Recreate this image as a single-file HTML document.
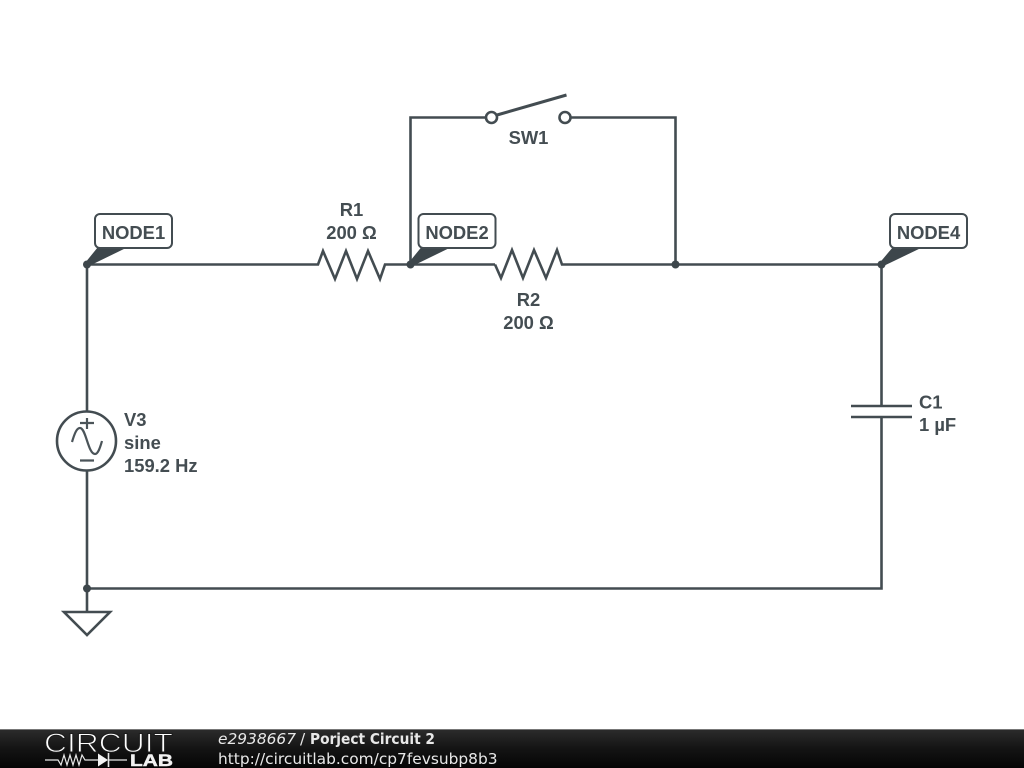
<!DOCTYPE html>
<html>
<head>
<meta charset="utf-8">
<style>
html,body{margin:0;padding:0;background:#fff;}
svg{display:block;}
.l{font-family:"Liberation Sans",sans-serif;font-size:18.4px;font-weight:bold;fill:#444d52;}
.m{text-anchor:middle;}
.f{font-family:"DejaVu Sans",sans-serif;font-size:15.4px;fill:#e8e8e8;}
</style>
</head>
<body>
<svg width="1024" height="768" viewBox="0 0 1024 768" xmlns="http://www.w3.org/2000/svg">
<defs>
<linearGradient id="bar" x1="0" y1="0" x2="0" y2="1">
<stop offset="0" stop-color="#2c2c2c"/>
<stop offset="0.5" stop-color="#141414"/>
<stop offset="1" stop-color="#050505"/>
</linearGradient>
</defs>
<rect width="1024" height="768" fill="#fff"/>
<g fill="none" stroke="#434c51" stroke-width="2.6" stroke-linejoin="miter">
<path d="M87 264.500H318L323 251L335 279L346 251L357 279L368 251L380 279L385 264.500H495"/>
<path d="M495 264.500L501 278L512 250L523 278L534 250L546 278L557 250L562 264.500H881.500V406"/>
<path d="M881.500 417V588.500H87"/>
<path d="M87 264.500V411.500"/>
<path d="M87 470.500V612"/>
<path d="M410.500 264.500V117.500H486"/>
<path d="M571 117.500H675.500V264.500"/>
<circle cx="491.500" cy="117.500" r="5.500"/>
<circle cx="565" cy="117.500" r="5.500"/>
<path d="M497 115L566.500 95" stroke-width="3"/>
<path d="M851 406H912M851 417H912"/>
<circle cx="86.500" cy="441" r="29.500"/>
<path d="M64 612H110L87 635Z"/>
</g>
<g fill="none" stroke="#4b5459" stroke-width="2.200">
<path d="M80 423H94M87 418V429M80 460.500H94"/>
<path d="M72 442C75 432 77 428 80 428C86 428 88 454 95 454C98 454 100 448 102 441"/>
</g>
<g fill="#3d464b">
<circle cx="87" cy="264.500" r="4"/>
<circle cx="410.500" cy="264.500" r="4"/>
<circle cx="675.500" cy="264.500" r="4"/>
<circle cx="881.500" cy="264.500" r="4"/>
<circle cx="87" cy="588.500" r="4"/>
<path d="M85 263L98 247H128L89 266Z"/>
<path d="M408.500 263L421.500 247H451.500L412.500 266Z"/>
<path d="M879.500 263L893 247H923L883.500 266Z"/>
</g>
<g fill="#fff" stroke="#434c51" stroke-width="2">
<rect x="95" y="214" width="77" height="34" rx="5"/>
<rect x="418.500" y="214" width="77" height="34" rx="5"/>
<rect x="890" y="214" width="77" height="34" rx="5"/>
</g>
<text class="l m" x="133.500" y="239">NODE1</text>
<text class="l m" x="457" y="239">NODE2</text>
<text class="l m" x="928.500" y="239">NODE4</text>
<text class="l m" x="351.500" y="216">R1</text>
<text class="l m" x="351.500" y="239">200 Ω</text>
<text class="l m" x="528.500" y="306">R2</text>
<text class="l m" x="528.500" y="329">200 Ω</text>
<text class="l m" x="528.500" y="144">SW1</text>
<text class="l" x="124" y="426">V3</text>
<text class="l" x="124" y="449">sine</text>
<text class="l" x="124" y="472">159.2 Hz</text>
<text class="l" x="919" y="408.500">C1</text>
<text class="l" x="919" y="431">1 µF</text>
<rect x="0" y="729" width="1024" height="39" fill="url(#bar)"/>
<rect x="0" y="729" width="1024" height="1" fill="#777"/>
<text x="44" y="752" font-family="Liberation Sans,sans-serif" font-size="26.500" textLength="129" lengthAdjust="spacingAndGlyphs" fill="#fff" stroke="#1c1c1c" stroke-width="1">CIRCUIT</text>
<text x="130" y="766" font-family="Liberation Sans,sans-serif" font-size="17" font-weight="bold" textLength="43" lengthAdjust="spacingAndGlyphs" fill="#f2f2f2" stroke="#f2f2f2" stroke-width="0.500">LAB</text>
<g fill="none" stroke="#e8e8e8" stroke-width="1.200">
<path d="M45 760H58L61 765L64 755L67 765L70 755L73 765L76 755L79 765L82 755L85 760H99"/>
<path d="M108 760H127"/>
<path d="M108.500 753V767" stroke-width="1.600"/>
</g>
<path d="M98 753.500L108 760L98 766.500Z" fill="#f4f4f4"/>
<text class="f" x="218" y="744" font-style="italic">e2938667</text>
<text class="f" x="300" y="744">/</text>
<text class="f" x="310" y="744" font-weight="bold" fill="#fff" textLength="125" lengthAdjust="spacingAndGlyphs">Porject Circuit 2</text>
<text class="f" x="218" y="764">http://circuitlab.com/cp7fevsubp8b3</text>
</svg>
</body>
</html>
